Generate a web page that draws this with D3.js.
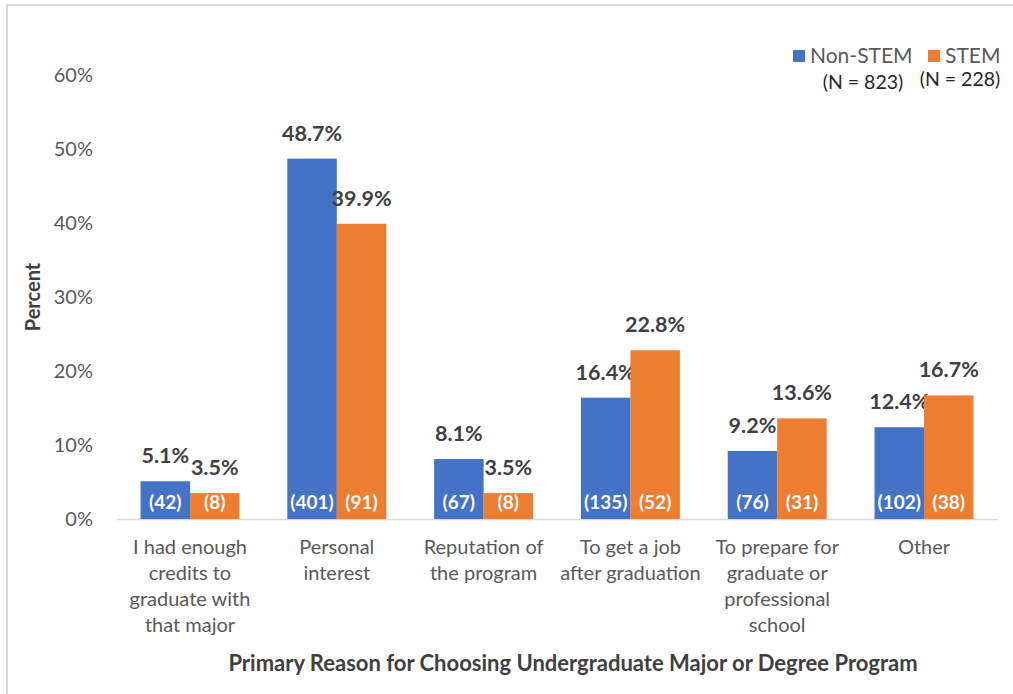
<!DOCTYPE html>
<html><head><meta charset="utf-8">
<script src="https://cdn.jsdelivr.net/npm/d3@7"></script>
<style>body{margin:0;background:#fff}svg{display:block}text{font-family:"Lato","Open Sans",sans-serif}</style>
</head><body>
<svg id="c" width="1013" height="694"></svg>
<script>
const categories = [
  ["I had enough","credits to","graduate with","that major"],
  ["Personal","interest"],
  ["Reputation of","the program"],
  ["To get a job","after graduation"],
  ["To prepare for","graduate or","professional","school"],
  ["Other"]
];
const seriesNames = ["Non-STEM","STEM"];
const seriesN = ["(N = 823)","(N = 228)"];
const nonStem = [5.1, 48.7, 8.1, 16.4, 9.2, 12.4];
const stem = [3.5, 39.9, 3.5, 22.8, 13.6, 16.7];
const nonStemCounts = [42, 401, 67, 135, 76, 102];
const stemCounts = [8, 91, 8, 52, 31, 38];
const yTicks = [0,10,20,30,40,50,60];
const colors = ["#4472C4","#ED7D31"];

const svg = d3.select("#c");
// border
svg.append("line").attr("x1",7).attr("x2",1013).attr("y1",5).attr("y2",5).attr("stroke","#d9d9d9").attr("stroke-width",2);
svg.append("line").attr("x1",7).attr("x2",7).attr("y1",4).attr("y2",694).attr("stroke","#d9d9d9").attr("stroke-width",2);

const x0 = d3.scaleBand().domain(d3.range(categories.length)).range([116.6,997.4]).paddingInner(0.326).paddingOuter(0.163);
const x1 = d3.scaleBand().domain([0,1]).range([0,x0.bandwidth()]);
const y = d3.scaleLinear().domain([0,60]).range([519,75]);

// y tick labels
svg.append("g").selectAll("text").data(yTicks).join("text")
  .attr("x",93).attr("y",d=>y(d)).attr("dy","0.35em").attr("text-anchor","end")
  .attr("fill","#595959").style("font-size","20px").text(d=>d+"%");

// axis line
svg.append("line").attr("x1",116.6).attr("x2",997.4).attr("y1",y(0)+0.5).attr("y2",y(0)+0.5).attr("stroke","#d9d9d9").attr("stroke-width",1.5);

const data = categories.map((c,i)=>({i, vals:[nonStem[i],stem[i]], counts:[nonStemCounts[i],stemCounts[i]]}));
const g = svg.append("g").selectAll("g").data(data).join("g").attr("transform",d=>`translate(${x0(d.i)},0)`);
const items = g.selectAll("g").data(d=>d.vals.map((v,s)=>({v,s,c:d.counts[s]}))).join("g");
items.append("rect").attr("x",d=>x1(d.s)).attr("width",x1.bandwidth()).attr("y",d=>y(d.v)).attr("height",d=>y(0)-y(d.v)).attr("fill",d=>colors[d.s]);
items.append("text").attr("x",d=>x1(d.s)+x1.bandwidth()/2).attr("y",d=>y(d.v)-18).attr("text-anchor","middle")
  .attr("fill","#404040").style("font-size","21.5px").style("font-weight","bold").text(d=>d.v.toFixed(1)+"%");
items.append("text").attr("x",d=>x1(d.s)+x1.bandwidth()/2).attr("y",y(0)-10).attr("text-anchor","middle")
  .attr("fill","#fff").style("font-size","19px").style("font-weight","bold").text(d=>"("+d.c+")");

// category labels
const cl = svg.append("g").selectAll("text").data(categories).join("text")
  .attr("x",(d,i)=>x0(i)+x0.bandwidth()/2).attr("y",554).attr("text-anchor","middle")
  .attr("fill","#595959").style("font-size","20px");
cl.selectAll("tspan").data(d=>d).join("tspan").attr("x",function(){return this.parentNode.getAttribute("x");})
  .attr("dy",(d,j)=>j===0?0:26).text(d=>d);

// axis titles
svg.append("text").attr("x",573).attr("y",671).attr("text-anchor","middle").attr("fill","#404040")
  .style("font-size","22px").style("font-weight","bold").text("Primary Reason for Choosing Undergraduate Major or Degree Program");
svg.append("text").attr("transform","translate(40,297) rotate(-90)").attr("text-anchor","middle").attr("fill","#404040")
  .style("font-size","20px").style("font-weight","bold").text("Percent");

// legend
const lx = [793, 928];
seriesNames.forEach((n,s)=>{
  svg.append("rect").attr("x",lx[s]).attr("y",50).attr("width",12).attr("height",12).attr("fill",colors[s]);
  svg.append("text").attr("x",lx[s]+17).attr("y",63).attr("fill","#595959").style("font-size","21px").text(n);
});
svg.append("text").attr("x",863).attr("y",89).attr("text-anchor","middle").attr("fill","#262626").style("font-size","19.5px").text(seriesN[0]);
svg.append("text").attr("x",960).attr("y",86).attr("text-anchor","middle").attr("fill","#262626").style("font-size","19.5px").text(seriesN[1]);
</script>
</body></html>
